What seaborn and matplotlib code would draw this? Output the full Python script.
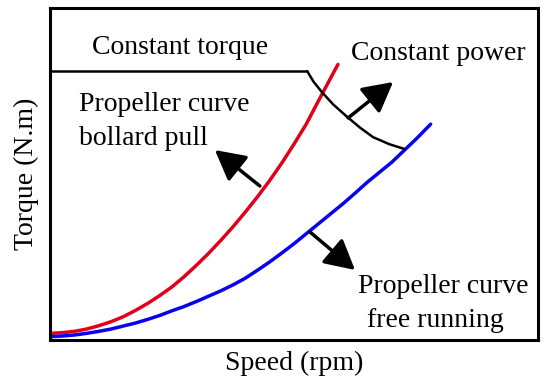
import numpy as np
import pandas as pd
import matplotlib
matplotlib.use("Agg")
import matplotlib.pyplot as plt
import seaborn as sns

# curves (speed, torque on a 0-100 scale)
bollard_speed = [0, 2.5, 5, 7.5, 10, 12.5, 15, 17.5, 20, 22.5, 25, 27.5, 30, 32.5,
                 35, 37.5, 40, 42.5, 45, 47.5, 50, 52.5, 55, 57, 59]
bollard_torque = [2.0, 2.2, 2.6, 3.3, 4.3, 5.5, 7.0, 8.9, 11.0, 13.4, 16.0, 19.1, 22.5, 26.1,
                  30.0, 34.1, 38.5, 43.1, 48.0, 53.3, 59.0, 65.0, 72.0, 77.5, 83.0]

free_speed = [0, 2.5, 5, 7.5, 10, 12.5, 15, 17.5, 20, 22.5, 25, 27.5, 30, 32.5, 35, 37.5,
              40, 42.5, 45, 47.5, 50, 52.5, 55, 57.5, 60, 62.5, 65, 67.5, 70, 72.5, 75, 78]
free_torque = [1.0, 1.2, 1.5, 2.0, 2.6, 3.3, 4.2, 5.1, 6.2, 7.4, 8.8, 10.1, 11.6, 13.2, 14.8, 16.6,
               18.6, 21.0, 23.5, 26.2, 29.0, 32.0, 35.0, 38.0, 41.0, 44.2, 47.5, 50.5, 53.5, 57.0, 60.5, 65.0]

torque_speed = [0, 52.7]
torque_level = [81.0, 81.0]

power_speed = [52.7, 54.0, 55.7, 58.0, 60.9, 63.5, 66.2, 69.5, 72.7]
power_torque = [81.0, 77.8, 74.7, 71.0, 67.2, 64.0, 61.1, 59.0, 57.5]

# arrows: (tail, tip)
arrows = [((43.0, 46.4), (33.8, 57.2)),
          ((61.1, 66.9), (70.3, 77.7)),
          ((53.3, 32.5), (62.5, 21.1))]

sns.set_style("white")
plt.rcParams['font.family'] = ['Liberation Serif', 'DejaVu Serif']
plt.rcParams['text.color'] = 'black'
plt.rcParams['axes.labelcolor'] = 'black'

fig = plt.figure(figsize=(5.5, 3.89), dpi=100)
ax = fig.add_axes([50 / 550, 1 - 340 / 389, 488 / 550, 332 / 389])

sns.lineplot(x=bollard_speed, y=bollard_torque, color='#e0001a', lw=2.5, ax=ax)
sns.lineplot(x=free_speed, y=free_torque, color='#0a00f0', lw=2.5, ax=ax)
sns.lineplot(x=torque_speed, y=torque_level, color='black', lw=1.8, ax=ax)
sns.lineplot(x=power_speed, y=power_torque, color='black', lw=1.8, ax=ax)

for tail, tip in arrows:
    ax.annotate('', xy=tip, xytext=tail,
                arrowprops=dict(arrowstyle='-|>,head_length=1.3,head_width=0.7',
                                mutation_scale=14, lw=2.5, color='black',
                                shrinkA=0, shrinkB=0))

fs = 20
ax.text(8.6, 86.1, 'Constant torque', fontsize=fs, va='baseline')
ax.text(61.7, 84.3, 'Constant power', fontsize=fs, va='baseline')
ax.text(5.9, 69.0, 'Propeller curve', fontsize=fs, va='baseline')
ax.text(5.9, 58.7, 'bollard pull', fontsize=fs, va='baseline')
ax.text(63.1, 14.2, 'Propeller curve', fontsize=fs, va='baseline')
ax.text(65.0, 3.9, 'free running', fontsize=fs, va='baseline')

ax.set_xlim(0, 100)
ax.set_ylim(0, 100)
ax.set_xticks([])
ax.set_yticks([])
ax.set_xlabel('Speed (rpm)', fontsize=fs, labelpad=8)
ax.set_ylabel('Torque (N.m)', fontsize=fs, labelpad=8)
for s in ax.spines.values():
    s.set_linewidth(2.2)
    s.set_color('black')

fig.savefig('out.png', dpi=100)
